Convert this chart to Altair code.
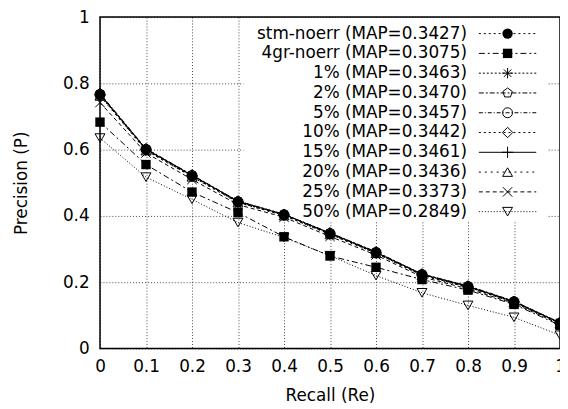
import altair as alt
import pandas as pd

recall = [0.0, 0.1, 0.2, 0.3, 0.4, 0.5, 0.6, 0.7, 0.8, 0.9, 1.0]

names = ["stm-noerr", "4gr-noerr", "1%", "2%", "5%", "10%", "15%", "20%", "25%", "50%"]
maps = ["0.3427", "0.3075", "0.3463", "0.3470", "0.3457", "0.3442", "0.3461", "0.3436", "0.3373", "0.2849"]

p_stm = [0.765, 0.600, 0.520, 0.442, 0.402, 0.345, 0.288, 0.222, 0.186, 0.140, 0.076]
p_4gr = [0.683, 0.555, 0.472, 0.410, 0.337, 0.279, 0.245, 0.208, 0.176, 0.133, 0.070]
p_1 = [0.768, 0.602, 0.523, 0.444, 0.405, 0.348, 0.291, 0.224, 0.188, 0.142, 0.078]
p_2 = [0.770, 0.603, 0.524, 0.445, 0.405, 0.349, 0.292, 0.225, 0.189, 0.143, 0.078]
p_5 = [0.766, 0.601, 0.522, 0.443, 0.404, 0.347, 0.290, 0.223, 0.187, 0.141, 0.077]
p_10 = [0.764, 0.598, 0.519, 0.441, 0.402, 0.345, 0.288, 0.221, 0.185, 0.140, 0.076]
p_15 = [0.767, 0.601, 0.522, 0.444, 0.404, 0.348, 0.290, 0.224, 0.187, 0.141, 0.077]
p_20 = [0.762, 0.597, 0.518, 0.440, 0.401, 0.344, 0.287, 0.220, 0.184, 0.139, 0.075]
p_25 = [0.742, 0.590, 0.510, 0.434, 0.396, 0.338, 0.282, 0.216, 0.180, 0.136, 0.073]
p_50 = [0.635, 0.517, 0.450, 0.380, 0.335, 0.280, 0.220, 0.168, 0.130, 0.094, 0.040]

series_values = [p_stm, p_4gr, p_1, p_2, p_5, p_10, p_15, p_20, p_25, p_50]

x_ticks = [0.0, 0.1, 0.2, 0.3, 0.4, 0.5, 0.6, 0.7, 0.8, 0.9, 1.0]
y_ticks = [0.0, 0.2, 0.4, 0.6, 0.8, 1.0]

# marker paths
ASTERISK = "M-1,0L1,0M0,-1L0,1M-0.72,-0.72L0.72,0.72M-0.72,0.72L0.72,-0.72"
PENTAGON = "M0,-1L0.951,-0.309L0.588,0.809L-0.588,0.809L-0.951,-0.309Z"
PLUS = "M-1,0L1,0M0,-1L0,1"
XSHAPE = "M-1,-1L1,1M-1,1L1,-1"

styles = [
    dict(shape="circle", filled=True, size=110, dash=[2, 3]),
    dict(shape="square", filled=True, size=90, dash=[6, 3, 2, 3]),
    dict(shape=ASTERISK, filled=False, size=110, dash=[2, 2]),
    dict(shape=PENTAGON, filled=False, size=100, dash=[5, 2, 2, 2]),
    dict(shape="circle", filled=False, size=100, dash=[4, 2, 1, 2]),
    dict(shape="diamond", filled=False, size=110, dash=[2, 3]),
    dict(shape=PLUS, filled=False, size=130, dash=None),
    dict(shape="triangle-up", filled=False, size=100, dash=[2, 4]),
    dict(shape=XSHAPE, filled=False, size=90, dash=[4, 3]),
    dict(shape="triangle-down", filled=False, size=100, dash=[1, 2]),
]

FONT = "DejaVu Sans"
W, H = 465, 335

xscale = alt.Scale(domain=[0, 1], nice=False, zero=False)
yscale = alt.Scale(domain=[0, 1], nice=False, zero=False)

xaxis = alt.Axis(values=x_ticks, format="~g", title="Recall (Re)", grid=True,
                 labelPadding=10, titleX=W / 2, titleY=48, titleBaseline="middle",
                 titleAlign="center")
yaxis = alt.Axis(values=y_ticks, format="~g", title="Precision (P)", grid=True,
                 labelPadding=11, titleX=-79, titleY=H / 2, titleAngle=270,
                 titleBaseline="middle", titleAlign="center")


def enc_xy():
    return dict(
        x=alt.X("recall:Q", scale=xscale, axis=xaxis),
        y=alt.Y("precision:Q", scale=yscale, axis=yaxis),
    )


def point_kw(st):
    pkw = dict(shape=st["shape"], size=st["size"], strokeWidth=1, opacity=1)
    if st["filled"]:
        pkw.update(filled=True, color="black")
    else:
        pkw.update(filled=False, stroke="black", fill=None)
    return pkw


layers = []

# opaque key background (hides the grid behind the key)
bg = alt.Chart(pd.DataFrame({"k": [0]})).mark_rect(fill="white").encode(
    x=alt.value(145), x2=alt.value(452), y=alt.value(1), y2=alt.value(206)
)
layers.append(bg)

for i, vals in enumerate(series_values):
    df = pd.DataFrame({"recall": recall, "precision": vals})
    st = styles[i]
    line_kw = dict(color="black", strokeWidth=1)
    if st["dash"]:
        line_kw["strokeDash"] = st["dash"]
    layers.append(alt.Chart(df).mark_line(**line_kw).encode(**enc_xy()))

for i, vals in enumerate(series_values):
    df = pd.DataFrame({"recall": recall, "precision": vals})
    layers.append(alt.Chart(df).mark_point(**point_kw(styles[i])).encode(**enc_xy()))

# key entries
for i, name in enumerate(names):
    st = styles[i]
    ypx = 16.7 + 20 * i
    ldf = pd.DataFrame({"label": [f"{name} (MAP={maps[i]})"]})
    layers.append(alt.Chart(ldf).mark_text(align="right", baseline="middle", font=FONT,
                                           fontSize=17, color="black").encode(
        x=alt.value(371), y=alt.value(ypx), text="label:N"))
    rkw = dict(color="black", strokeWidth=1)
    if st["dash"]:
        rkw["strokeDash"] = st["dash"]
    layers.append(alt.Chart(ldf).mark_rule(**rkw).encode(
        x=alt.value(383), x2=alt.value(441), y=alt.value(ypx)))
    layers.append(alt.Chart(ldf).mark_point(**point_kw(st)).encode(
        x=alt.value(412), y=alt.value(ypx)))

chart = alt.layer(*layers).properties(
    width=W, height=H,
    autosize=alt.AutoSizeParams(type="none"),
    padding={"left": 93, "top": 7, "right": 0, "bottom": 58},
).configure(background="white").configure_view(
    stroke="black", strokeWidth=1.5, strokeOpacity=1
).configure_axis(
    domain=False, ticks=False, labelFont=FONT, labelFontSize=17, labelColor="black",
    titleFont=FONT, titleFontSize=17, titleColor="black", titleFontWeight="normal",
    gridColor="black", gridDash=[1, 2], gridWidth=0.8, gridOpacity=0.9,
    labelOverlap=False, labelBound=False, labelFlush=False,
)

chart.save("out.html", embed_options={"renderer": "svg", "actions": False})
